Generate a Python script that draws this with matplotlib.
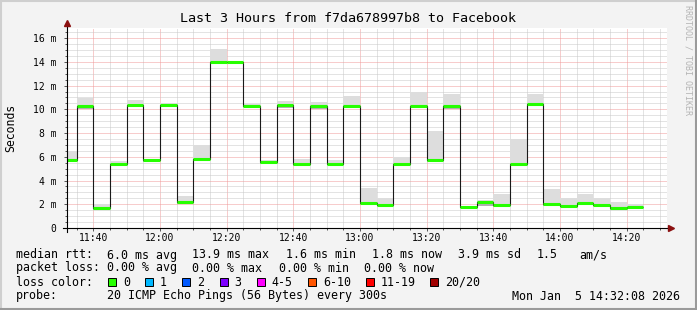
#!/usr/bin/env python3
import datetime as dt
import matplotlib
matplotlib.use('Agg')
import matplotlib.pyplot as plt
import matplotlib.dates as mdates
from matplotlib.ticker import MultipleLocator, FuncFormatter
from matplotlib.patches import Rectangle
from matplotlib.lines import Line2D

# 5-minute bins (start time), last bin ends at 14:25
bins = ['11:30', '11:35', '11:40', '11:45', '11:50', '11:55',
        '12:00', '12:05', '12:10', '12:15', '12:20', '12:25',
        '12:30', '12:35', '12:40', '12:45', '12:50', '12:55',
        '13:00', '13:05', '13:10', '13:15', '13:20', '13:25',
        '13:30', '13:35', '13:40', '13:45', '13:50', '13:55',
        '14:00', '14:05', '14:10', '14:15', '14:20', '14:25']

# median rtt per bin (ms)
median = [5.75, 10.27, 1.65, 5.36, 10.34, 5.69,
          10.38, 2.16, 5.78, 13.97, 13.97, 10.30,
          5.53, 10.33, 5.41, 10.30, 5.39, 10.32,
          2.07, 1.90, 5.39, 10.32, 5.70, 10.27,
          1.74, 2.16, 1.92, 5.39, 10.42, 2.03,
          1.88, 2.07, 1.95, 1.67, 1.79]
# smoke (spread of the 20 pings)
smoke_lo = [5.61, 10.02, 1.54, 5.25, 10.24, 5.58,
            10.24, 2.02, 5.64, 13.86, 13.86, 10.16,
            5.36, 10.10, 5.25, 10.02, 5.27, 10.24,
            1.99, 1.82, 5.25, 10.24, 5.56, 10.02,
            1.65, 1.82, 1.77, 5.25, 10.30, 1.82,
            1.77, 1.94, 1.82, 1.52, 1.68]
smoke_hi = [6.45, 10.95, 2.05, 5.67, 10.75, 5.81,
            10.52, 2.66, 6.96, 15.10, 14.11, 10.47,
            5.70, 10.72, 5.84, 10.61, 5.75, 11.08,
            3.34, 2.55, 5.98, 11.50, 8.19, 11.31,
            1.82, 2.38, 2.89, 7.52, 11.31, 3.31,
            2.52, 2.89, 2.55, 2.21, 1.99]

loss_labels = ['0', '1', '2', '3', '4-5', '6-10', '11-19', '20/20']
loss_colors = ['#26ff00', '#00b8ff', '#0059ff', '#7e00ff',
               '#ff00ff', '#ff5500', '#ff0000', '#a10000']

W, H = 697, 310
MONO = 'DejaVu Sans Mono'
BG = '#f3f3f3'


def px(x, y):
    return x / W, 1 - y / H


def to_time(s):
    h, m = s.split(':')
    return dt.datetime(2026, 1, 5, int(h), int(m))


edges = [to_time(s) for s in bins]
t0 = dt.datetime(2026, 1, 5, 11, 32, 8)
t1 = dt.datetime(2026, 1, 5, 14, 32, 8)

fig = plt.figure(figsize=(W / 100, H / 100), dpi=100, facecolor=BG)
ax = fig.add_axes([67 / W, (H - 228) / H, 600 / W, 200 / H])
ax.set_facecolor('white')

xe = mdates.date2num(edges)
ax.stairs(smoke_hi, xe, baseline=smoke_lo, fill=True, color='#dddddd', zorder=2)
ax.stairs(median, xe, baseline=smoke_lo, fill=True, color='#b0b0b0', zorder=2)
ax.stairs(median, xe, baseline=None, color='#1a1a1a', lw=0.8, zorder=3)
ax.hlines(median, xe[:-1], xe[1:], color=loss_colors[0], lw=2.2, zorder=4)

ax.set_xlim(t0, t1)
ax.set_ylim(0, 16.85)

ax.xaxis.set_major_locator(mdates.MinuteLocator(byminute=[0, 20, 40]))
ax.xaxis.set_minor_locator(mdates.MinuteLocator(byminute=range(0, 60, 5)))
ax.xaxis.set_major_formatter(mdates.DateFormatter('%H:%M'))
ax.yaxis.set_major_locator(MultipleLocator(2))
ax.yaxis.set_minor_locator(MultipleLocator(0.5))
ax.yaxis.set_major_formatter(FuncFormatter(lambda v, p: '0' if v == 0 else '%d m' % v))

ax.grid(which='minor', color='#c8c8c8', lw=0.72, linestyle=(0, (1, 1)), zorder=1)
ax.grid(which='major', color='#f09a9a', lw=0.72, linestyle=(0, (1, 1)), zorder=1)
ax.set_axisbelow(True)

for s in ax.spines.values():
    s.set_visible(False)
ax.tick_params(which='both', direction='out', colors='#555555', width=0.7,
               labelcolor='black', labelsize=7)
ax.tick_params(which='major', length=2.5, pad=1)
ax.tick_params(which='minor', length=1.5)
ax.tick_params(axis='y', pad=5)
for lab in ax.get_xticklabels() + ax.get_yticklabels():
    lab.set_family(MONO)

# axes with arrows
ax.add_line(Line2D([0, 0], [-0.02, 1.025], transform=ax.transAxes, color='#000000',
                   lw=0.8, clip_on=False, zorder=5))
ax.add_line(Line2D([-0.007, 1.003], [0, 0], transform=ax.transAxes, color='#000000',
                   lw=0.8, clip_on=False, zorder=5))
ax.plot([0], [1.025], marker='^', ms=4.5, color='#8b1010', transform=ax.transAxes,
        clip_on=False, zorder=6)
ax.plot([1.006], [0], marker='>', ms=4.5, color='#8b1010', transform=ax.transAxes,
        clip_on=False, zorder=6)

fig.text(*px(11, 128), 'Seconds', rotation=90, ha='center', va='center',
         family=MONO, fontsize=8.3)

fig.text(*px(W / 2, 19), 'Last 3 Hours from f7da678997b8 to Facebook',
         ha='center', va='center', family=MONO, fontsize=9.6)
fig.text(*px(688, 60), 'RRDTOOL / TOBI OETIKER', rotation=270, ha='center',
         va='center', family=MONO, fontsize=6, color='#b4b4b4')

fs = 8.35
rows = [
    (255, [(16, 'median rtt:'), (107, '6.0 ms avg'), (192, '13.9 ms max'),
           (286, '1.6 ms min'), (372, '1.8 ms now'), (458, '3.9 ms sd'),
           (537, '1.5'), (579, 'am/s')]),
    (268, [(16, 'packet loss:'), (107, '0.00 % avg'), (192, '0.00 % max'),
           (279, '0.00 % min'), (364, '0.00 % now')]),
    (282, [(16, 'loss color:')]),
    (296, [(16, 'probe:'), (107, '20 ICMP Echo Pings (56 Bytes) every 300s')]),
]
for y, items in rows:
    for x, t in items:
        fig.text(*px(x, y), t, ha='left', va='center', family=MONO, fontsize=fs)
fig.text(*px(680, 296), 'Mon Jan  5 14:32:08 2026', ha='right', va='center',
         family=MONO, fontsize=fs)

box_x = [108, 145, 182, 219.5, 256.5, 308, 365.5, 430]
for bx, lab, col in zip(box_x, loss_labels, loss_colors):
    fig.add_artist(Rectangle(px(bx, 286), 8 / W, 8 / H, transform=fig.transFigure,
                             facecolor=col, edgecolor='black', lw=0.7))
    fig.text(*px(bx + 15, 282), lab, ha='left', va='center', family=MONO, fontsize=fs)

# 3d-ish frame around the canvas
fig.add_artist(Line2D([0, 1], [1 - 1 / H, 1 - 1 / H], transform=fig.transFigure,
                      color='#cfcfcf', lw=1.5))
fig.add_artist(Line2D([1 / W, 1 / W], [0, 1], transform=fig.transFigure,
                      color='#cfcfcf', lw=1.5))
fig.add_artist(Line2D([0, 1], [1 / H, 1 / H], transform=fig.transFigure,
                      color='#9a9a9a', lw=1.5))
fig.add_artist(Line2D([1 - 1 / W, 1 - 1 / W], [0, 1], transform=fig.transFigure,
                      color='#9a9a9a', lw=1.5))

fig.savefig('out.png', dpi=100, facecolor=BG)
